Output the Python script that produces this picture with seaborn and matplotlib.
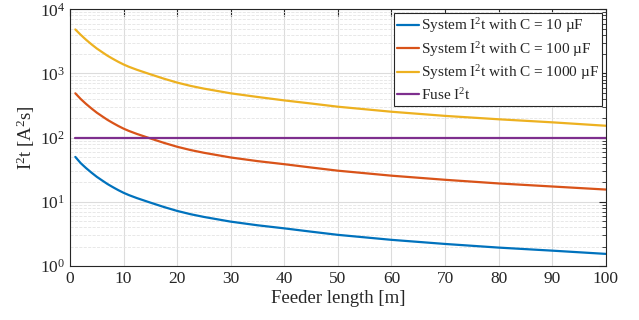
import pandas as pd
import seaborn as sns
import matplotlib.pyplot as plt
from matplotlib.ticker import LogLocator, NullFormatter

# Values
feeder_len = [1, 2, 3, 4, 5, 6, 7, 8, 9, 10, 11, 12.5, 15, 17.5, 20, 22.5, 25, 30, 35,
              40, 45, 50, 60, 70, 80, 90, 100]
i2t_10uF = [50, 40, 33.5, 28.5, 24.5, 21.5, 18.9, 16.9, 15.2, 13.8, 12.7, 11.4, 9.7,
            8.3, 7.2, 6.4, 5.8, 4.9, 4.3, 3.85, 3.42, 3.05, 2.55, 2.2, 1.93, 1.73, 1.54]
i2t_100uF = [490, 400, 335, 285, 245, 215, 189, 169, 152, 138, 127, 114, 97,
             83, 72, 64, 58, 49, 43, 38.5, 34.2, 30.5, 25.5, 22, 19.3, 17.3, 15.5]
i2t_1000uF = [4850, 4000, 3350, 2850, 2450, 2150, 1890, 1690, 1520, 1380, 1270, 1140, 970,
              830, 720, 640, 580, 490, 430, 380, 340, 303, 253, 218, 193, 173, 153]
fuse_len = [1, 100]
fuse_i2t = [100, 100]

labels = [r"System I$^\mathrm{2}$t with C = 10 µF",
          r"System I$^\mathrm{2}$t with C = 100 µF",
          r"System I$^\mathrm{2}$t with C = 1000 µF",
          r"Fuse I$^\mathrm{2}$t"]
colors = ["#0072BD", "#D95319", "#EDB120", "#7E2F8E"]

frames = []
for lab, xs, ys in zip(labels,
                       [feeder_len, feeder_len, feeder_len, fuse_len],
                       [i2t_10uF, i2t_100uF, i2t_1000uF, fuse_i2t]):
    frames.append(pd.DataFrame({"length": xs, "i2t": ys, "series": lab}))
df = pd.concat(frames, ignore_index=True)

sns.set_style("white")
plt.rcParams["font.family"] = ["Liberation Serif", "DejaVu Serif"]
plt.rcParams["mathtext.fontset"] = "custom"
plt.rcParams["mathtext.rm"] = "Liberation Serif"
plt.rcParams["mathtext.it"] = "Liberation Serif:italic"

fig = plt.figure(figsize=(6.39, 3.2), dpi=100)
ax = fig.add_axes([0.1095, 0.169, 0.8385, 0.802])

sns.lineplot(data=df, x="length", y="i2t", hue="series", hue_order=labels,
             palette=colors, linewidth=1.6, ax=ax)

ax.set_yscale("log")
ax.set_xlim(0, 100)
ax.set_ylim(1, 1e4)
ax.set_xticks(range(0, 101, 10))
ax.yaxis.set_major_locator(LogLocator(base=10, numticks=10))
ax.yaxis.set_minor_locator(LogLocator(base=10, subs=range(2, 10), numticks=20))
ax.yaxis.set_minor_formatter(NullFormatter())

ax.grid(True, which="major", color="#dcdcdc", linewidth=0.8)
ax.grid(True, which="minor", axis="y", color="#e4e4e4", linewidth=0.6, linestyle="--")
ax.set_axisbelow(True)

for side in ax.spines.values():
    side.set_color("#262626")
    side.set_linewidth(0.8)
ax.tick_params(which="both", direction="in", top=True, right=True, colors="#262626",
               labelsize=12.5)
ax.tick_params(which="major", length=5)
ax.tick_params(which="minor", length=3)

ax.set_xlabel("Feeder length [m]", fontsize=13.5, color="#262626", labelpad=2)
ax.set_ylabel(r"I$^\mathrm{2}$t [A$^\mathrm{2}$s]", fontsize=13.5, color="#262626", labelpad=2)

leg = ax.legend(loc="upper right", fontsize=11, frameon=True, fancybox=False,
                edgecolor="#262626", handlelength=1.4, handletextpad=0.15,
                borderpad=0.2, labelspacing=0.3, borderaxespad=0.25)
leg.get_frame().set_linewidth(0.8)
leg.get_frame().set_alpha(1)

plt.savefig("out.png", dpi=100)
plt.close()
